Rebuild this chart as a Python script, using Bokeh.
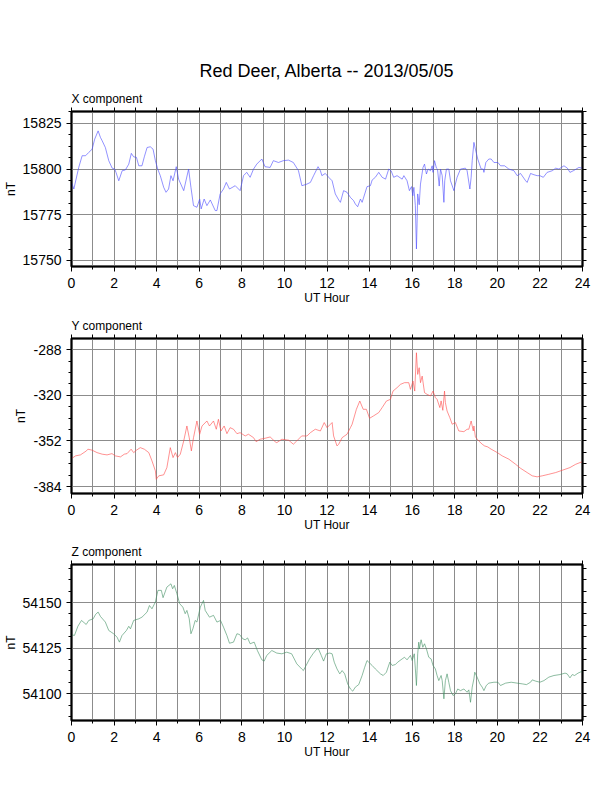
from bokeh.embed import file_html
from bokeh.layouts import column
from bokeh.models import FixedTicker, LinearAxis, Range1d, Title
from bokeh.plotting import figure
from bokeh.resources import INLINE

FONT = "Liberation Sans"

# X component (nT), hour -> value
x_hours = [0.0, 0.03, 0.11, 0.34, 0.50, 0.66, 0.81, 0.97, 1.09, 1.25, 1.36, 1.44, 1.59, 1.75, 1.91,
           2.03, 2.09, 2.22, 2.38, 2.53, 2.69, 2.81, 2.92, 3.05, 3.16, 3.31, 3.42, 3.55, 3.70, 3.83,
           3.94, 4.05, 4.17, 4.33, 4.44, 4.56, 4.67, 4.77, 4.92, 5.03, 5.27, 5.50, 5.61, 5.73, 5.89,
           6.02, 6.09, 6.23, 6.36, 6.52, 6.75, 6.83, 6.98, 7.14, 7.27, 7.42, 7.69, 7.92, 8.08, 8.23,
           8.39, 8.55, 8.70, 8.94, 9.09, 9.33, 9.48, 9.72, 9.95, 10.19, 10.42, 10.66, 10.82, 11.06,
           11.22, 11.37, 11.58, 11.69, 11.76, 11.92, 12.08, 12.24, 12.39, 12.55, 12.63, 12.78, 12.94,
           13.10, 13.25, 13.33, 13.44, 13.57, 13.65, 13.88, 14.04, 14.12, 14.27, 14.43, 14.59, 14.75,
           14.90, 15.01, 15.13, 15.29, 15.53, 15.61, 15.76, 15.87, 15.97, 16.03, 16.08, 16.15, 16.20,
           16.23, 16.26, 16.33, 16.39, 16.51, 16.58, 16.67, 16.75, 16.86, 16.94, 16.98, 17.05, 17.14,
           17.19, 17.27, 17.33, 17.41, 17.49, 17.53, 17.61, 17.72, 17.80, 17.96, 18.03, 18.11, 18.27,
           18.50, 18.58, 18.71, 18.77, 18.82, 18.90, 18.97, 19.08, 19.24, 19.34, 19.37, 19.46, 19.60,
           19.71, 19.84, 20.03, 20.15, 20.34, 20.54, 20.78, 20.93, 21.09, 21.33, 21.40, 21.56, 21.72,
           21.87, 22.00, 22.16, 22.34, 22.58, 22.74, 22.89, 23.13, 23.29, 23.41, 23.57, 23.83, 24.0]
x_nt = [15792.7, 15791.8, 15789.1, 15800.9, 15807.3, 15807.3, 15809.1, 15810.9, 15816.4, 15820.9,
        15817.3, 15815.5, 15811.8, 15804.6, 15800.5, 15800.0, 15798.2, 15793.6, 15799.1, 15799.5,
        15802.7, 15808.6, 15806.7, 15806.4, 15801.8, 15801.8, 15806.7, 15811.8, 15812.2, 15810.9,
        15804.6, 15800.0, 15796.4, 15790.0, 15787.3, 15789.1, 15796.4, 15793.6, 15801.3, 15794.5,
        15788.2, 15800.0, 15790.0, 15780.0, 15779.1, 15783.6, 15778.2, 15783.6, 15780.0, 15783.1,
        15777.3, 15777.3, 15786.4, 15789.1, 15792.7, 15789.1, 15790.9, 15788.2, 15796.4, 15798.2,
        15795.5, 15800.0, 15802.7, 15805.5, 15801.3, 15800.9, 15804.6, 15803.6, 15804.6, 15804.9,
        15803.6, 15799.1, 15790.9, 15791.8, 15792.7, 15796.4, 15801.3, 15799.1, 15796.4, 15797.6,
        15795.5, 15793.6, 15786.4, 15783.1, 15781.8, 15788.2, 15787.3, 15784.5, 15782.7, 15780.9,
        15779.4, 15783.6, 15781.8, 15790.4, 15790.9, 15794.0, 15795.5, 15798.2, 15795.5, 15794.5,
        15800.0, 15799.1, 15795.5, 15796.4, 15794.5, 15796.4, 15793.6, 15788.2, 15790.4, 15785.4,
        15790.0, 15780.0, 15756.3, 15770.0, 15786.4, 15780.5, 15791.8, 15800.9, 15802.7, 15797.3,
        15800.0, 15799.1, 15801.8, 15798.2, 15804.6, 15800.5, 15800.0, 15790.7, 15800.0, 15796.4,
        15781.8, 15793.6, 15800.0, 15800.0, 15793.6, 15788.2, 15791.8, 15795.5, 15800.0, 15800.5,
        15799.1, 15789.1, 15795.5, 15804.6, 15814.6, 15810.9, 15805.5, 15800.0, 15800.0, 15798.2,
        15803.6, 15805.5, 15805.5, 15803.6, 15803.6, 15801.8, 15801.8, 15800.0, 15799.1, 15796.4,
        15797.6, 15793.6, 15792.7, 15797.6, 15796.9, 15796.4, 15796.4, 15795.5, 15798.2, 15799.1,
        15800.5, 15800.0, 15801.8, 15800.5, 15798.2, 15799.1, 15800.9, 15800.5]

# Y component (nT)
y_hours = [0.0, 0.19, 0.42, 0.70, 0.77, 0.97, 1.20, 1.44, 1.67, 1.90, 2.06, 2.30, 2.48, 2.61, 2.80,
           2.92, 3.05, 3.23, 3.42, 3.63, 3.78, 3.94, 3.98, 4.10, 4.33, 4.48, 4.64, 4.77, 4.88, 4.98,
           5.11, 5.27, 5.42, 5.53, 5.63, 5.73, 5.89, 6.02, 6.13, 6.36, 6.48, 6.67, 6.80, 6.90, 7.02,
           7.17, 7.30, 7.45, 7.61, 7.77, 7.92, 8.16, 8.31, 8.55, 8.67, 8.86, 9.10, 9.33, 9.56, 9.64,
           9.88, 10.20, 10.42, 10.58, 10.81, 11.06, 11.22, 11.45, 11.69, 11.87, 12.00, 12.16, 12.24,
           12.31, 12.47, 12.55, 12.71, 12.94, 13.10, 13.18, 13.38, 13.54, 13.70, 13.85, 14.00, 14.19,
           14.43, 14.59, 14.79, 14.98, 15.10, 15.29, 15.45, 15.64, 15.84, 15.92, 16.04, 16.12, 16.20,
           16.26, 16.33, 16.39, 16.47, 16.58, 16.70, 16.86, 16.98, 17.09, 17.17, 17.30, 17.36, 17.44,
           17.52, 17.56, 17.64, 17.77, 17.88, 18.03, 18.19, 18.43, 18.58, 18.66, 18.77, 18.87, 18.90,
           18.97, 19.13, 19.29, 19.40, 19.55, 19.71, 20.00, 20.23, 20.54, 20.86, 21.09, 21.40, 21.64,
           21.87, 22.11, 22.42, 22.74, 23.05, 23.41, 23.68, 24.0]
y_nt = [-364.4, -362.5, -361.8, -359.0, -357.8, -358.5, -360.2, -361.3, -361.8, -360.9, -362.5,
        -363.2, -361.3, -360.9, -357.8, -360.2, -358.5, -356.7, -357.8, -360.2, -366.0, -373.0,
        -378.9, -376.5, -375.8, -370.7, -356.7, -363.7, -360.2, -363.7, -361.3, -352.0, -341.5,
        -349.7, -359.0, -349.7, -338.0, -347.3, -341.5, -338.0, -341.5, -338.0, -343.8, -336.8,
        -345.0, -341.5, -346.9, -342.7, -343.8, -346.9, -346.2, -348.5, -347.3, -349.7, -352.5,
        -350.8, -350.1, -349.2, -352.5, -353.2, -350.8, -351.5, -354.3, -352.0, -348.5, -348.5,
        -346.2, -343.8, -345.0, -339.1, -342.7, -340.3, -339.1, -348.5, -355.5, -354.3, -349.7,
        -347.3, -342.7, -340.3, -329.8, -324.0, -329.8, -329.8, -336.1, -334.4, -332.1, -328.6,
        -324.0, -322.8, -317.0, -314.6, -312.3, -311.1, -311.1, -315.8, -310.0, -317.0, -290.1,
        -305.3, -300.6, -311.1, -306.5, -318.1, -319.3, -320.4, -317.0, -321.6, -322.8, -328.6,
        -323.9, -330.5, -317.0, -325.1, -331.0, -335.7, -340.3, -339.1, -345.0, -345.5, -343.8,
        -343.8, -338.0, -345.0, -341.5, -349.2, -352.0, -354.3, -355.5, -356.2, -357.8, -360.2,
        -362.5, -364.8, -368.4, -371.2, -374.2, -376.5, -377.2, -376.5, -375.4, -374.2, -372.6,
        -370.7, -368.4, -366.5]

# Z component (nT)
z_hours = [0.0, 0.14, 0.30, 0.47, 0.69, 0.81, 1.02, 1.13, 1.25, 1.36, 1.59, 1.75, 1.98, 2.14, 2.25,
           2.37, 2.58, 2.69, 2.77, 2.92, 3.16, 3.31, 3.55, 3.66, 3.78, 3.94, 4.06, 4.22, 4.30, 4.48,
           4.67, 4.75, 4.83, 4.95, 5.08, 5.23, 5.34, 5.42, 5.53, 5.61, 5.70, 5.81, 5.89, 6.05, 6.20,
           6.28, 6.48, 6.67, 6.83, 7.00, 7.14, 7.30, 7.42, 7.61, 7.77, 7.89, 8.05, 8.16, 8.27, 8.39,
           8.58, 8.73, 8.94, 9.05, 9.17, 9.41, 9.64, 9.88, 10.11, 10.34, 10.58, 10.81, 10.89, 11.02,
           11.18, 11.34, 11.53, 11.60, 11.73, 11.84, 11.97, 12.13, 12.24, 12.34, 12.47, 12.60, 12.71,
           12.83, 12.97, 13.10, 13.21, 13.33, 13.49, 13.65, 13.77, 13.88, 13.96, 14.12, 14.27, 14.51,
           14.64, 14.79, 14.95, 15.06, 15.21, 15.32, 15.53, 15.64, 15.76, 15.92, 16.00, 16.10, 16.15,
           16.20, 16.23, 16.26, 16.31, 16.34, 16.42, 16.50, 16.58, 16.67, 16.78, 16.89, 16.98, 17.09,
           17.17, 17.25, 17.36, 17.41, 17.49, 17.56, 17.64, 17.72, 17.80, 17.92, 18.03, 18.14, 18.27,
           18.43, 18.58, 18.66, 18.74, 18.82, 18.90, 18.94, 19.05, 19.18, 19.29, 19.37, 19.48, 19.60,
           19.84, 20.03, 20.15, 20.39, 20.65, 20.93, 21.17, 21.37, 21.56, 21.64, 21.80, 22.00, 22.19,
           22.42, 22.66, 22.94, 23.18, 23.28, 23.41, 23.52, 23.63, 23.79, 24.0]
z_nt = [54132.3, 54132.0, 54137.0, 54140.2, 54138.0, 54140.2, 54141.1, 54143.5, 54144.8, 54142.4,
        54139.3, 54134.7, 54132.9, 54131.0, 54128.3, 54131.9, 54134.7, 54137.0, 54135.6, 54140.2,
        54141.1, 54142.0, 54144.8, 54148.4, 54146.6, 54150.3, 54156.7, 54156.7, 54152.7, 54158.5,
        54160.3, 54157.6, 54159.4, 54154.9, 54149.4, 54147.5, 54143.9, 54145.7, 54141.1, 54132.9,
        54135.6, 54140.2, 54139.3, 54147.5, 54151.2, 54145.7, 54142.0, 54143.0, 54139.3, 54140.2,
        54136.5, 54131.9, 54127.7, 54128.3, 54132.9, 54132.5, 54130.1, 54129.6, 54130.6, 54127.4,
        54128.3, 54123.7, 54118.6, 54117.9, 54121.0, 54123.7, 54122.3, 54121.9, 54122.8, 54121.9,
        54116.4, 54113.6, 54112.7, 54115.5, 54119.1, 54121.9, 54124.6, 54124.6, 54121.0, 54117.9,
        54121.9, 54122.3, 54121.9, 54117.3, 54113.6, 54110.9, 54112.7, 54110.9, 54105.4, 54102.6,
        54101.4, 54103.6, 54105.0, 54110.0, 54114.5, 54118.2, 54117.3, 54115.5, 54113.6, 54110.9,
        54110.0, 54111.8, 54117.3, 54115.5, 54116.0, 54117.3, 54119.1, 54120.0, 54118.6, 54121.0,
        54118.2, 54121.9, 54113.6, 54104.5, 54112.7, 54121.9, 54128.3, 54124.6, 54129.6, 54125.5,
        54127.4, 54124.6, 54120.0, 54119.1, 54115.5, 54113.6, 54110.0, 54107.2, 54110.0, 54107.2,
        54097.2, 54107.2, 54110.9, 54106.3, 54101.7, 54099.0, 54099.9, 54102.6, 54101.7, 54102.6,
        54100.8, 54102.1, 54095.3, 54103.6, 54108.2, 54111.8, 54109.1, 54105.4, 54103.6, 54101.7,
        54104.5, 54105.8, 54106.3, 54106.3, 54104.5, 54105.8, 54106.3, 54105.8, 54105.4, 54105.0,
        54106.3, 54107.6, 54106.9, 54106.3, 54107.2, 54109.1, 54110.0, 54110.5, 54111.3, 54110.9,
        54108.7, 54110.5, 54110.0, 54111.3, 54112.4]

hour_ticks = [0, 2, 4, 6, 8, 10, 12, 14, 16, 18, 20, 22, 24]
hour_grid = list(range(25))

x_ticks = [15750, 15775, 15800, 15825]
y_ticks = [-384, -352, -320, -288]
z_ticks = [54100, 54125, 54150]


def make_panel(hours, vals, color, y0, y1, ticks, minor_step, label, height, top, main_title=None):
    p = figure(width=600, height=height,
               x_range=Range1d(0, 24), y_range=Range1d(y0, y1),
               output_backend="svg", toolbar_location=None, tools="",
               min_border_left=71, min_border_right=18,
               min_border_top=top, min_border_bottom=42)
    p.background_fill_color = "white"
    p.border_fill_color = "white"
    p.outline_line_color = "black"
    p.outline_line_width = 2

    p.line(hours, vals, line_color=color, line_width=0.6)

    # minor ticks every quarter of a major step
    minor = []
    t = ticks[0] - minor_step * 4
    while t <= y1:
        if t >= y0:
            minor.append(t)
        t += minor_step

    yticker = FixedTicker(ticks=ticks, minor_ticks=minor)
    xticker = FixedTicker(ticks=hour_ticks, minor_ticks=hour_grid)

    p.xaxis.ticker = xticker
    p.yaxis.ticker = yticker
    for ax in (p.xaxis[0], p.yaxis[0]):
        ax.axis_line_color = "black"
        ax.axis_line_width = 1.5
        ax.major_tick_in = 0
        ax.major_tick_out = 5
        ax.minor_tick_in = 0
        ax.minor_tick_out = 3
        ax.major_label_text_font = FONT
        ax.major_label_text_font_size = "14px"
        ax.major_label_text_color = "black"
        ax.axis_label_text_font = FONT
        ax.axis_label_text_font_size = "12px"
        ax.axis_label_text_font_style = "normal"
        ax.axis_label_text_color = "black"
        ax.major_label_standoff = 5
    p.xaxis.axis_label = "UT Hour"
    p.xaxis.major_label_standoff = 6
    p.xaxis.axis_label_standoff = 0
    p.yaxis.axis_label = "nT"
    p.yaxis.axis_label_standoff = 2
    # plain hyphen for negative labels, as in the original
    p.yaxis.major_label_overrides = {t: str(t) for t in ticks}

    # frame ticks on the right and top, drawn as label-free minor ticks
    right = LinearAxis(ticker=FixedTicker(ticks=[], minor_ticks=sorted(set(ticks + minor))),
                       major_label_standoff=0, minor_tick_in=0, minor_tick_out=4,
                       axis_line_width=1.5)
    p.add_layout(right, "right")
    top_ax = LinearAxis(ticker=FixedTicker(ticks=[], minor_ticks=hour_grid),
                        major_label_standoff=0, minor_tick_in=0, minor_tick_out=4,
                        axis_line_width=1.5)
    p.add_layout(top_ax, "above")

    p.xgrid.ticker = FixedTicker(ticks=hour_grid)
    p.ygrid.ticker = FixedTicker(ticks=ticks)
    p.grid.grid_line_color = "#8c8c8c"
    p.grid.grid_line_width = 1

    comp = Title(text=label, align="left", text_font=FONT, text_font_size="12px",
                 text_font_style="normal", text_color="black", standoff=4)
    p.add_layout(comp, "above")
    if main_title:
        p.title.text = main_title
        p.title.align = "center"
        p.title.text_font = FONT
        p.title.text_font_size = "18px"
        p.title.text_font_style = "normal"
        p.title.text_color = "black"
        p.title.standoff = 14
    return p


p1 = make_panel(x_hours, x_nt, "#4848ff", 15746.7, 15831.5, x_ticks, 6.25,
                "X component", 308, 111, main_title="Red Deer, Alberta -- 2013/05/05")
p2 = make_panel(y_hours, y_nt, "#ff4848", -388.9, -280.1, y_ticks, 8.0,
                "Y component", 227, 30)
p3 = make_panel(z_hours, z_nt, "#3f8f62", 54085.3, 54170.9, z_ticks, 6.25,
                "Z component", 227, 29)

layout = column(p1, p2, p3, spacing=0)
open("out.html", "w").write(file_html(layout, INLINE))
